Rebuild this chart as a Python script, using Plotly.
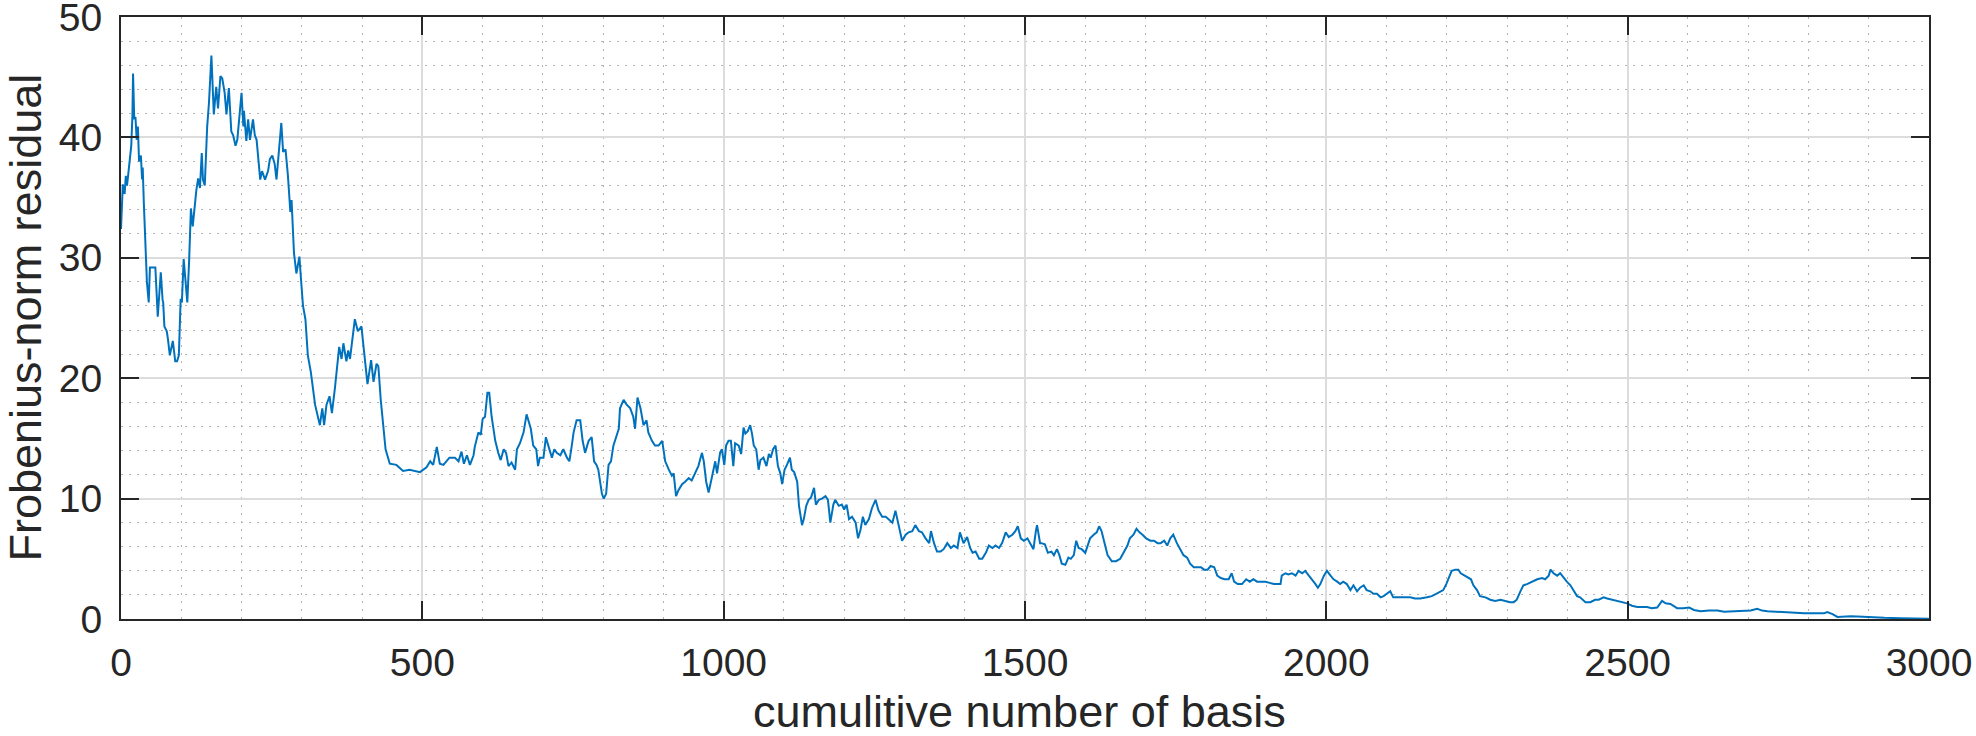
import plotly.graph_objects as go

# cumulative number of basis (x) and Frobenius-norm residual (y)
x_vals = [0, 3, 6, 8, 10, 14, 17, 19, 20, 22, 24, 26, 28, 30, 33, 35, 36, 38, 41, 43, 46, 48, 51, 57, 61, 66, 69, 70, 72, 76, 78, 81, 86, 90, 93, 96, 99, 101, 104, 107, 110, 113, 116, 119, 122, 125, 128, 131, 134, 136, 139, 143, 146, 150, 154, 158, 161, 165, 168, 172, 175, 179, 183, 186, 190, 193, 200, 203, 204, 208, 211, 214, 219, 222, 225, 228, 231, 234, 239, 244, 247, 251, 255, 258, 266, 269, 273, 277, 281, 283, 287, 291, 296, 299, 302, 306, 310, 315, 322, 330, 334, 337, 341, 346, 350, 355, 359, 362, 366, 369, 374, 377, 380, 384, 388, 393, 399, 401, 409, 415, 419, 424, 427, 431, 435, 439, 446, 457, 468, 479, 496,
          507, 513, 518, 524, 529, 535, 545, 554, 560, 565, 569, 574, 579, 585, 587, 593, 597, 600, 604, 608, 611, 615, 621, 626, 630, 635, 639, 643, 648, 654, 657, 662, 668, 673, 676, 680, 684, 689, 692, 695, 701, 705, 709, 715, 719, 723, 729, 734, 740, 744, 748, 751, 756, 762, 766, 770, 776, 781, 785, 789, 792, 798, 801, 805, 809, 813, 817, 822, 826, 828, 834, 839, 845, 850, 853, 857, 862, 867, 872, 875, 881, 886, 892, 898, 903, 909, 914, 917, 921, 925, 931, 936, 942, 947, 953, 958, 964, 967, 971, 975, 981, 986, 989, 994, 997, 1001,
          1004, 1008, 1012, 1016, 1019, 1025, 1029, 1033, 1036, 1040, 1044, 1047, 1050, 1054, 1058, 1061, 1066, 1071, 1075, 1078, 1082, 1086, 1090, 1094, 1097, 1101, 1105, 1110, 1113, 1117, 1122, 1125, 1130, 1133, 1137, 1141, 1145, 1150, 1153, 1158, 1163, 1169, 1173, 1177, 1182, 1185, 1191, 1196, 1200, 1204, 1208, 1213, 1219, 1223, 1227, 1231, 1235, 1241, 1246, 1252, 1257, 1263, 1269, 1274, 1280, 1285, 1291, 1296, 1302, 1307, 1313, 1318, 1324, 1329, 1335, 1341, 1344, 1349, 1354, 1360, 1365, 1371, 1377, 1382, 1388, 1392, 1398, 1404, 1409, 1413, 1418, 1424, 1429, 1435, 1440, 1446, 1451, 1457, 1462, 1468, 1473, 1479, 1484, 1488, 1493, 1498, 1504, 1509, 1514, 1518, 1520, 1525,
          1527, 1533, 1538, 1544, 1548, 1553, 1557, 1561, 1567, 1572, 1576, 1581, 1585, 1589, 1594, 1600, 1604, 1608, 1614, 1619, 1623, 1627, 1631, 1637, 1644, 1651, 1658, 1664, 1670, 1674, 1680, 1685, 1690, 1695, 1701, 1708, 1714, 1720, 1725, 1731, 1736, 1741, 1746, 1752, 1757, 1763, 1769, 1774, 1780, 1785, 1792, 1797, 1803, 1808, 1814, 1819, 1825, 1831, 1838, 1843, 1847, 1853, 1860, 1867, 1873, 1879, 1885, 1891, 1899, 1906, 1913, 1919, 1924, 1926, 1932, 1937, 1943, 1949, 1954, 1960, 1965, 1971, 1976, 1982, 1986, 1990, 1996, 2001, 2007, 2012, 2018, 2023,
          2028, 2034, 2040, 2045, 2051, 2056, 2062, 2067, 2073, 2078, 2084, 2090, 2095, 2101, 2106, 2111, 2120, 2131, 2139, 2147, 2156, 2167, 2175, 2183, 2189, 2194, 2199, 2203, 2208, 2214, 2219, 2223, 2229, 2236, 2240, 2244, 2250, 2255, 2264, 2272, 2280, 2289, 2297, 2305, 2311, 2316, 2322, 2327, 2333, 2341, 2350, 2358, 2363, 2369, 2372, 2377, 2383, 2388, 2394, 2399, 2405, 2410, 2416, 2421, 2430, 2438, 2446, 2452, 2460, 2466, 2474, 2482, 2491, 2499, 2507, 2516, 2524, 2532, 2540, 2549,
          2557, 2563, 2571, 2582, 2592, 2602, 2610, 2621, 2635, 2649, 2660, 2676, 2693, 2704, 2715, 2723, 2732, 2746, 2759, 2771, 2782, 2793, 2804, 2815, 2826, 2831, 2840, 2848, 2859, 2870, 2881, 2892, 2903, 2926, 2953, 2981, 3000]

y_vals = [32.4, 36.1, 35.3, 36.8, 36.0, 38.0, 39.3, 41.9, 45.3, 41.5, 41.7, 39.8, 40.9, 38.0, 38.5, 36.5, 37.5, 34.4, 31.0, 28.0, 26.3, 29.2, 29.2, 29.2, 25.1, 28.8, 26.5, 26.3, 24.3, 23.9, 23.2, 21.9, 23.1, 21.4, 21.4, 21.9, 26.6, 26.3, 29.9, 27.7, 26.3, 29.7, 34.1, 32.6, 34.3, 35.6, 36.6, 35.8, 38.7, 36.5, 36.0, 40.9, 42.9, 46.8, 41.9, 44.2, 42.4, 45.1, 44.9, 43.7, 41.9, 44.1, 40.5, 40.2, 39.3, 39.8, 43.7, 40.9, 42.2, 39.7, 41.5, 39.8, 41.5, 40.2, 39.8, 37.8, 36.5, 37.2, 36.5, 37.2, 38.2, 38.5, 37.8, 36.5, 41.2, 38.8, 39.0, 36.8, 33.8, 34.8, 30.4, 28.7, 30.1, 28.0, 26.0, 24.9, 21.9, 20.5, 17.8, 16.1, 17.5, 16.1, 17.8, 18.5, 17.1, 19.2, 20.9, 22.6, 21.6, 22.9, 21.4, 22.3, 21.6, 23.3, 24.9, 23.9, 24.3, 23.3, 19.5, 21.5, 19.7, 21.2, 21.0, 18.2, 15.8, 14.1, 12.9, 12.8, 12.3, 12.4, 12.2,
          12.6, 13.1, 12.8, 14.3, 12.9, 12.8, 13.4, 13.4, 13.1, 13.9, 12.9, 13.6, 12.8, 13.6, 14.3, 15.5, 15.3, 16.6, 16.8, 18.8, 18.8, 16.8, 14.8, 13.8, 13.2, 14.1, 13.8, 12.7, 13.0, 12.4, 14.1, 14.6, 15.5, 17.0, 16.5, 15.8, 14.4, 14.1, 12.7, 13.4, 13.4, 15.1, 14.4, 13.4, 14.1, 13.8, 13.6, 14.1, 13.4, 13.1, 14.4, 15.5, 16.5, 16.5, 14.8, 13.8, 14.8, 15.1, 13.1, 12.8, 12.4, 10.4, 10.0, 10.4, 12.8, 13.1, 14.4, 15.1, 15.8, 17.5, 18.2, 17.8, 17.5, 16.8, 15.8, 18.4, 17.5, 16.1, 16.5, 15.5, 14.8, 14.4, 14.4, 14.8, 13.1, 12.4, 11.9, 12.1, 10.2, 10.7, 11.2, 11.4, 11.7, 11.5, 12.2, 12.7, 13.8, 13.1, 11.4, 10.5, 11.9, 13.1, 12.1, 13.8, 14.1, 12.8,
          14.4, 14.8, 14.8, 12.7, 14.6, 14.4, 13.7, 15.9, 15.4, 15.6, 16.1, 15.4, 14.4, 14.1, 12.4, 13.2, 13.4, 12.7, 13.7, 13.4, 14.1, 14.4, 12.7, 12.1, 11.2, 12.4, 12.8, 13.4, 12.4, 12.2, 11.4, 9.4, 7.8, 8.3, 9.4, 9.9, 10.1, 10.9, 9.5, 9.9, 10.0, 10.2, 9.9, 8.0, 9.5, 9.9, 9.4, 9.5, 9.1, 9.5, 8.3, 8.5, 8.0, 6.7, 7.4, 8.5, 7.8, 8.3, 9.2, 9.9, 9.0, 8.5, 8.5, 8.3, 8.0, 9.0, 7.7, 6.5, 7.0, 7.2, 7.3, 7.8, 7.3, 7.2, 6.7, 6.3, 7.3, 6.3, 5.6, 5.6, 5.8, 6.3, 5.9, 6.1, 5.9, 7.2, 6.3, 6.8, 5.9, 5.5, 5.6, 5.0, 5.0, 5.5, 6.1, 5.9, 6.1, 5.9, 6.3, 7.2, 6.8, 7.0, 7.3, 7.7, 6.7, 6.5, 6.7, 6.3, 5.8, 7.3, 7.8, 6.3,
          6.3, 6.2, 5.5, 5.6, 5.3, 5.8, 5.3, 4.6, 4.5, 5.1, 5.0, 5.3, 6.5, 5.9, 5.8, 5.5, 6.1, 6.7, 7.0, 7.2, 7.7, 7.3, 6.5, 5.3, 4.8, 4.8, 5.0, 5.5, 6.1, 6.7, 7.0, 7.5, 7.2, 7.0, 6.7, 6.5, 6.5, 6.3, 6.3, 6.5, 6.1, 6.7, 7.0, 6.3, 5.8, 5.3, 5.1, 4.6, 4.3, 4.3, 4.3, 4.1, 4.1, 4.4, 4.3, 3.6, 3.4, 3.3, 3.3, 3.8, 3.1, 2.9, 2.9, 3.3, 3.1, 3.3, 3.1, 3.1, 3.1, 3.0, 2.9, 2.9, 2.9, 3.6, 3.8, 3.7, 3.8, 3.6, 4.0, 3.8, 4.0, 3.6, 3.3, 2.9, 2.6, 2.9, 3.6, 4.0, 3.6, 3.3, 3.1, 2.9,
          3.1, 2.9, 2.4, 2.8, 2.3, 2.6, 2.8, 2.4, 2.3, 2.1, 2.1, 1.8, 1.9, 2.1, 2.3, 1.8, 1.8, 1.8, 1.8, 1.7, 1.7, 1.8, 1.9, 2.1, 2.3, 2.4, 2.9, 3.4, 4.0, 4.1, 4.1, 3.8, 3.6, 3.4, 3.3, 2.8, 2.4, 1.9, 1.8, 1.6, 1.5, 1.6, 1.5, 1.4, 1.4, 1.6, 2.3, 2.8, 2.9, 3.1, 3.3, 3.4, 3.3, 3.6, 4.1, 3.8, 3.6, 3.8, 3.4, 3.1, 2.8, 2.4, 1.9, 1.8, 1.4, 1.4, 1.6, 1.6, 1.8, 1.7, 1.6, 1.5, 1.4, 1.3, 1.1, 1.0, 1.0, 1.0, 0.9, 0.95,
          1.5, 1.3, 1.25, 0.9, 0.9, 0.95, 0.75, 0.65, 0.7, 0.7, 0.6, 0.62, 0.7, 0.7, 0.85, 0.7, 0.65, 0.6, 0.6, 0.5, 0.5, 0.47, 0.47, 0.44, 0.47, 0.58, 0.4, 0.17, 0.22, 0.22, 0.2, 0.17, 0.14, 0.1, 0.07, 0.03, 0.03]

x_ticks = [0, 500, 1000, 1500, 2000, 2500, 3000]
y_ticks = [0, 10, 20, 30, 40, 50]
x_title = "cumulitive number of basis"
y_title = "Frobenius-norm residual"

FONT = "Liberation Sans, Arial, Helvetica, sans-serif"
INK = "#262626"

W, H = 1976, 736
ML, MR, MT, MB = 121, 47, 17, 117
PW, PH = W - ML - MR, H - MT - MB

fig = go.Figure()
fig.add_trace(go.Scatter(x=x_vals, y=y_vals, mode="lines",
                         line=dict(color="#0072BD", width=2), showlegend=False))

axis_common = dict(
    showline=True, linecolor=INK, linewidth=2, mirror="allticks",
    ticks="inside", ticklen=18, tickwidth=2, tickcolor=INK,
    showgrid=True, gridcolor="#dcdcdc", gridwidth=1.5,
    zeroline=False, ticklabeloverflow="allow",
    tickfont=dict(family=FONT, size=39, color=INK),
)

minor_style = dict(showgrid=True, gridcolor="#b4b4b4", griddash="2px,6px", gridwidth=1.3)

fig.update_xaxes(range=[0, 3000], tickvals=x_ticks, **axis_common,
                 minor=dict(dtick=100, **minor_style), ticklabelstandoff=8)
fig.update_yaxes(range=[0, 50], tickvals=y_ticks, **axis_common,
                 minor=dict(dtick=2, **minor_style), ticklabelstandoff=9)

title_font = dict(family=FONT, size=45, color=INK)
# axis titles placed as annotations, as close to the page edges as fits
fig.add_annotation(text=x_title, showarrow=False, font=title_font,
                   xref="paper", yref="paper", x=(1019 - ML) / PW, xanchor="center",
                   y=-(739 - (H - MB)) / PH, yanchor="bottom")
fig.add_annotation(text=y_title, showarrow=False, font=title_font, textangle=-90,
                   xref="paper", yref="paper", x=-(ML + 3) / PW, xanchor="left",
                   y=0.5, yanchor="middle")

fig.update_layout(
    width=W, height=H,
    margin=dict(l=ML, r=MR, t=MT, b=MB, autoexpand=False),
    paper_bgcolor="white", plot_bgcolor="white",
    font=dict(family=FONT, color=INK),
)

fig.write_html("out.html", config={"displayModeBar": False},
               post_script="document.body.style.margin='0px';document.body.style.overflow='hidden';")
